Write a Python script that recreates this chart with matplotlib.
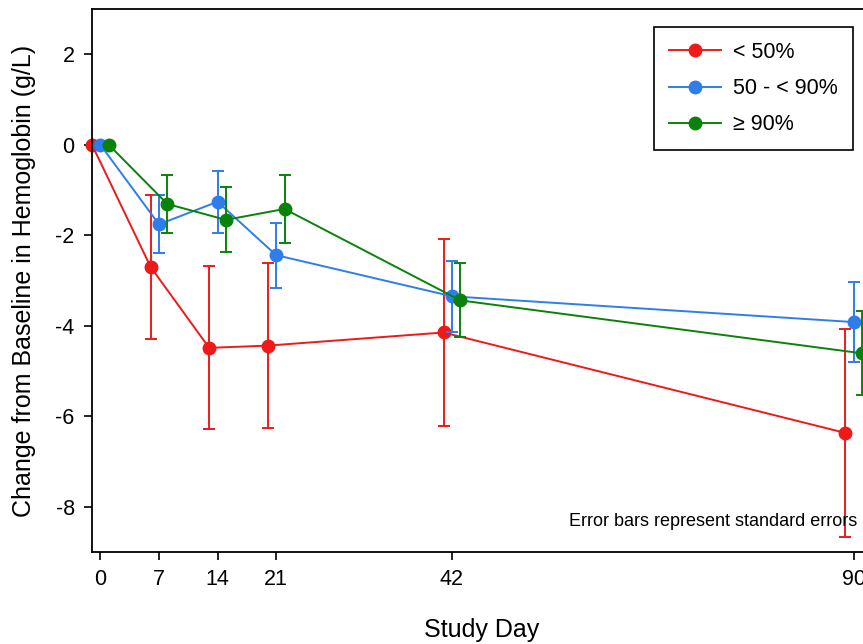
import matplotlib
matplotlib.use("Agg")
import matplotlib.pyplot as plt
from matplotlib.lines import Line2D

plt.rcParams['font.family'] = ['Liberation Sans', 'DejaVu Sans']
plt.rcParams['axes.unicode_minus'] = False

# study days where each group was measured (groups are dodged by one day)
days = [0, 7, 14, 21, 42, 90]
dodge = [-1, 0, 1]

groups = ['< 50%', '50 - < 90%', '\u2265 90%']
colors = ['#EE1A1A', '#2E7DEB', '#0A820A']

mean_lo = [0, -2.70, -4.49, -4.44, -4.15, -6.37]
se_lo = [0, 1.60, 1.80, 1.83, 2.07, 2.29]

mean_mid = [0, -1.76, -1.26, -2.44, -3.35, -3.92]
se_mid = [0, 0.64, 0.69, 0.72, 0.78, 0.88]

mean_hi = [0, -1.31, -1.66, -1.42, -3.44, -4.61]
se_hi = [0, 0.65, 0.72, 0.76, 0.82, 0.93]

means = [mean_lo, mean_mid, mean_hi]
ses = [se_lo, se_mid, se_hi]

tick_days = [0, 7, 14, 21, 42, 90]
y_ticks = [2, 0, -2, -4, -6, -8]

fig = plt.figure(figsize=(8.63, 6.44), dpi=100)
# right edge of the frame falls just outside the picture, as in the source
ax = fig.add_axes([0.1066, 0.143, 0.902, 0.843])

for i in range(len(groups)):
    x = [d + dodge[i] for d in days]
    ax.errorbar(x, means[i], yerr=ses[i], color=colors[i], marker='o',
                markersize=9, linewidth=1.4, elinewidth=1.4, capsize=4.5,
                capthick=1.4, zorder=2 + i, clip_on=False)

ax.set_xlim(-1, 92)
ax.set_ylim(-9, 3)
ax.set_xticks(tick_days)
ax.set_yticks(y_ticks)
ax.tick_params(direction='out', length=5.5, width=1.2, labelsize=15.5, pad=7)
for sp in ax.spines.values():
    sp.set_linewidth(1.3)
ax.spines['right'].set_visible(False)

ax.set_xlabel('Study Day', fontsize=18, labelpad=20)
ax.set_ylabel('Change from Baseline in Hemoglobin (g/L)', fontsize=18, labelpad=14)

ax.text(0.983, 0.056, 'Error bars represent standard errors', transform=ax.transAxes,
        ha='right', va='center', fontsize=13)

handles = [Line2D([], [], color=c, marker='o', markersize=9, linewidth=1.4) for c in colors]
leg = ax.legend(handles, groups, loc='upper right', bbox_to_anchor=(0.978, 0.967), fontsize=15.5,
                frameon=True, fancybox=False, edgecolor='black', handlelength=2.4,
                borderpad=0.7, labelspacing=0.7, handletextpad=0.6, framealpha=1,
                borderaxespad=0)
leg.get_frame().set_linewidth(1.2)

fig.savefig('out.png', dpi=100)
